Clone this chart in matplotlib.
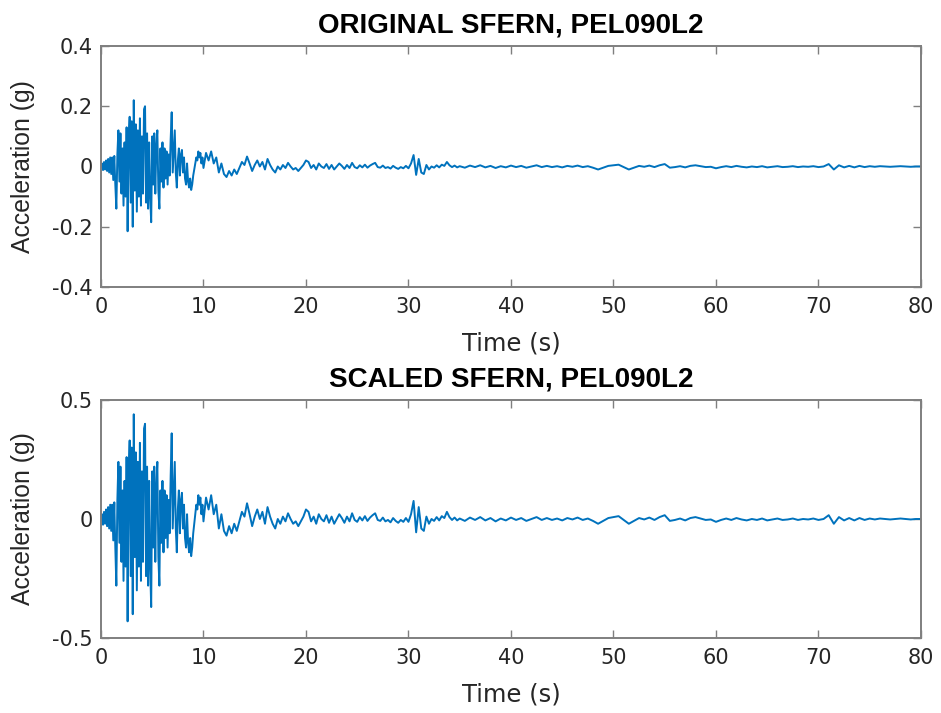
import numpy as np
import matplotlib
matplotlib.use("Agg")
import matplotlib.pyplot as plt

# Ground-motion record SFERN, PEL090L2 (acceleration in g)
# Strong-motion part, sampled every 0.1 s from t = 0 s
accel_strong = [
    0.000, 0.010, -0.012, 0.015, -0.010, 0.020, -0.015, 0.025, -0.020, 0.030,
    -0.025, 0.030, -0.045, 0.035, -0.060, -0.140, 0.040, 0.120, -0.050, 0.110,
    -0.090, 0.060, -0.130, 0.080, -0.100, 0.130, -0.215, 0.090, 0.165, -0.120,
    0.150, -0.200, 0.220, -0.080, 0.140, -0.150, 0.120, -0.100, 0.160, -0.130,
    0.100, -0.090, 0.190, 0.200, -0.120, 0.110, -0.140, 0.080, -0.100, -0.185,
    0.100, -0.060, 0.110, -0.090, 0.070, 0.120, -0.080, -0.140, 0.060, -0.050,
    0.080, -0.070, 0.060, -0.040, 0.050, -0.060, 0.040, -0.030, 0.090, 0.180,
    -0.020, 0.050, 0.120, -0.020, -0.070, 0.020, 0.060, -0.030, 0.040, 0.055,
    -0.020, 0.030, -0.040, -0.060, 0.010, -0.050, -0.070, -0.040, -0.078, -0.060,
    -0.030, -0.010, 0.010, 0.030, 0.020, 0.050, 0.030, 0.045, 0.010, 0.030,
    -0.005,
]

# Coda, sampled every 0.25 s from t = 10.25 s
accel_coda = [
    0.045, 0.020, 0.050, 0.010, 0.030, -0.020, 0.010, -0.025, -0.035, -0.015,
    -0.030, -0.010, -0.025, -0.005, 0.015, 0.005, 0.033, 0.010, -0.015, 0.005,
    0.020, 0.000, 0.015, -0.010, 0.025, 0.005, -0.010, -0.020, 0.000, -0.010,
    0.005, -0.005, 0.012, 0.000, -0.010, -0.005, -0.015, -0.005, 0.005, 0.020,
    0.015, -0.005, 0.005, -0.010, 0.010, 0.000, -0.005, 0.008, -0.008, 0.005,
    -0.010, 0.000, 0.010, 0.002, -0.008, 0.005, -0.005, 0.012, -0.002, -0.006,
    0.004, -0.003, 0.006, -0.004, 0.003, 0.008, 0.012, -0.002, -0.004, 0.003,
    -0.005, -0.002, -0.007, 0.002, -0.004, -0.008, -0.002, -0.006, 0.002, -0.006,
    0.010, 0.038, -0.028, 0.025, -0.020, -0.025, 0.005, -0.010, 0.000, -0.004,
    0.004, -0.003, 0.006, 0.002, 0.015, 0.004, -0.002, 0.003, -0.003, 0.001,
]

# Tail, sampled every 0.5 s from t = 35.5 s
accel_tail = [
    -0.004, 0.003, -0.002, 0.004, -0.003, 0.002, -0.005, 0.001, -0.003, 0.003,
    -0.002, 0.002, -0.004, 0.000, 0.004, -0.002, 0.002, -0.002, 0.001, -0.003,
    0.002, -0.001, 0.003, -0.002, 0.001, -0.004, -0.010, -0.004, 0.002, 0.004,
    0.006, -0.002, -0.010, -0.004, 0.002, -0.001, 0.003, -0.002, 0.004, 0.008,
    -0.004, -0.002, 0.001, -0.003, 0.002, 0.004, 0.001, -0.002, -0.001, -0.006,
    -0.002, 0.001, -0.002, 0.002, -0.001, -0.003, 0.000, -0.002, 0.001, -0.003,
    -0.001, 0.001, -0.002, -0.001, 0.001, -0.002, 0.000, -0.001, 0.001, -0.002,
    0.000, 0.008, -0.010, 0.004, -0.003, 0.002, -0.003, 0.002, -0.002, 0.001,
    -0.001, 0.001, 0.000, -0.001, 0.000, 0.001, 0.000, -0.001, 0.000, 0.000,
]

scale_factor = 2.0

xticks = [0, 10, 20, 30, 40, 50, 60, 70, 80]
yticks_orig = [-0.4, -0.2, 0, 0.2, 0.4]
yticks_scaled = [-0.5, 0, 0.5]
title_orig = "ORIGINAL SFERN, PEL090L2"
title_scaled = "SCALED SFERN, PEL090L2"

time_s = np.concatenate([
    0.0 + 0.1 * np.arange(len(accel_strong)),
    10.25 + 0.25 * np.arange(len(accel_coda)),
    35.5 + 0.5 * np.arange(len(accel_tail)),
])
accel_orig = np.array(accel_strong + accel_coda + accel_tail)
accel_scaled = accel_orig * scale_factor

plt.rcParams["font.family"] = ["DejaVu Sans"]
line_color = "#0072BD"
axis_color = "#262626"
frame_color = "#7f7f7f"

fig = plt.figure(figsize=(9.41, 7.13), dpi=100)
ax1 = fig.add_axes([0.1073, 0.5975, 0.8714, 0.338])
ax2 = fig.add_axes([0.1073, 0.1052, 0.8714, 0.3338])


def style(ax, yticks, ylim, title):
    ax.set_xlim(0, 80)
    ax.set_ylim(*ylim)
    ax.set_xticks(xticks)
    ax.set_yticks(yticks)
    ax.set_yticklabels([f"{v:g}" for v in yticks])
    ax.tick_params(direction="in", top=True, right=True, length=6,
                   width=1.0, colors=frame_color, labelcolor=axis_color,
                   labelsize=15)
    ax.tick_params(axis="x", pad=7)
    ax.tick_params(axis="y", pad=6)
    for sp in ax.spines.values():
        sp.set_color(frame_color)
        sp.set_linewidth(1.4)
    ax.set_xlabel("Time (s)", fontsize=17.5, color=axis_color, labelpad=11)
    ax.set_ylabel("Acceleration (g)", fontsize=17.8,
                  family="Liberation Sans", color=axis_color, labelpad=12)
    ax.set_title(title, fontsize=20, fontweight="bold",
                 family="Liberation Sans", color="black", pad=10)


ax1.plot(time_s, accel_orig, color=line_color, linewidth=1.4)
style(ax1, yticks_orig, (-0.4, 0.4), title_orig)

ax2.plot(time_s, accel_scaled, color=line_color, linewidth=1.4)
style(ax2, yticks_scaled, (-0.5, 0.5), title_scaled)

fig.savefig("out.png", dpi=100)
